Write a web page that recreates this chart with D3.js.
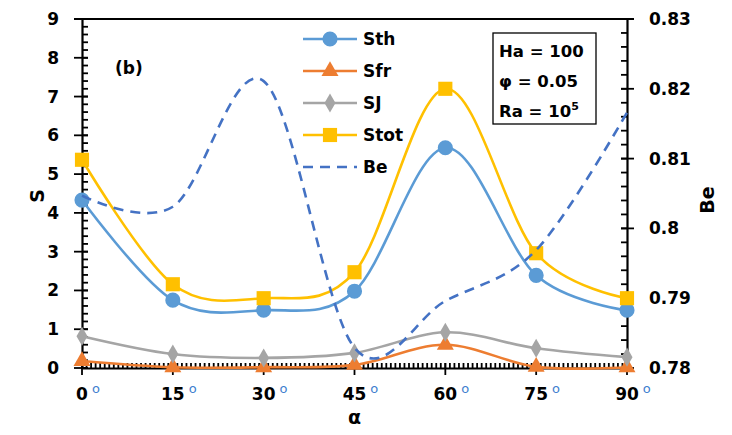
<!DOCTYPE html>
<html>
<head>
<meta charset="utf-8">
<script src="https://cdn.jsdelivr.net/npm/d3@7"></script>
<style>
  body { margin: 0; background: #fff; }
  text { font-family: "DejaVu Sans", Verdana, sans-serif; font-weight: bold; fill: #000; }
</style>
</head>
<body>
<svg id="chart" width="732" height="435"></svg>
<script>
// Inclination angle (degrees)
const angles = [0, 15, 30, 45, 60, 75, 90];

// Entropy generation components (left axis)
const sth  = [4.33, 1.75, 1.49, 1.98, 5.68, 2.39, 1.49];
const sfr  = [0.18, 0.02, 0.02, 0.08, 0.60, 0.03, 0.02];
const sj   = [0.82, 0.36, 0.26, 0.39, 0.92, 0.51, 0.28];
const stot = [5.37, 2.16, 1.80, 2.47, 7.20, 2.96, 1.80];

// Bejan number (right axis)
const be = [0.8047, 0.8031, 0.8211, 0.7829, 0.7896, 0.7969, 0.8166];

// Tick labels
const xTicks = [0, 15, 30, 45, 60, 75, 90];
const leftTicks = [0, 1, 2, 3, 4, 5, 6, 7, 8, 9];
const rightTicks = [0.78, 0.79, 0.8, 0.81, 0.82, 0.83];

const paramLines = [
  { main: "Ha = 100" },
  { main: "\u03c6 = 0.05" },
  { main: "Ra = 10", sup: "5" }
];

const svg = d3.select("#chart");

const x = d3.scaleLinear().domain([0, 90]).range([82, 627]);
const yL = d3.scaleLinear().domain([0, 9]).range([368, 19]);
const yR = d3.scaleLinear().domain([0.78, 0.83]).range([368, 19]);

const axisColor = "#000";
const ticksG = svg.append("g").attr("stroke", axisColor).attr("stroke-width", 1.8);

// Minor tick values (inside the plot area)
const leftMinor = d3.range(0, 46).map(i => i * 0.2);
const rightMinor = d3.range(0, 26).map(i => 0.78 + i * 0.002);
const bottomMinor = d3.range(0, 121).map(i => i * 0.75);

// Left axis ticks: minor inside, major crossing
ticksG.selectAll("line.lmin").data(leftMinor).join("line").attr("class", "lmin")
  .attr("x1", x(0)).attr("x2", x(0) + 6).attr("y1", d => yL(d)).attr("y2", d => yL(d));
ticksG.selectAll("line.lmaj").data(leftTicks).join("line").attr("class", "lmaj")
  .attr("x1", x(0) - 8).attr("x2", x(0) + 6).attr("y1", d => yL(d)).attr("y2", d => yL(d));

// Right axis ticks
ticksG.selectAll("line.rmin").data(rightMinor).join("line").attr("class", "rmin")
  .attr("x1", x(90) - 6).attr("x2", x(90)).attr("y1", d => yR(d)).attr("y2", d => yR(d));
ticksG.selectAll("line.rmaj").data(rightTicks).join("line").attr("class", "rmaj")
  .attr("x1", x(90) - 6).attr("x2", x(90) + 7).attr("y1", d => yR(d)).attr("y2", d => yR(d));

// Bottom axis ticks
ticksG.selectAll("line.bmin").data(bottomMinor).join("line").attr("class", "bmin")
  .attr("x1", d => x(d)).attr("x2", d => x(d)).attr("y1", yL(0)).attr("y2", yL(0) - 5);
ticksG.selectAll("line.bmaj").data(xTicks).join("line").attr("class", "bmaj")
  .attr("x1", d => x(d)).attr("x2", d => x(d)).attr("y1", yL(0) - 5).attr("y2", yL(0) + 7);

// Axis lines and numeric labels
svg.append("g").attr("class", "ax").attr("transform", `translate(${x(0)},0)`)
  .call(d3.axisLeft(yL).tickValues(leftTicks).tickSize(0).tickPadding(23).tickFormat(d3.format("d")));
svg.append("g").attr("class", "ax").attr("transform", `translate(${x(90)},0)`)
  .call(d3.axisRight(yR).tickValues(rightTicks).tickSize(0).tickPadding(22).tickFormat(d => String(d)));
svg.append("g").attr("class", "ax").attr("transform", `translate(0,${yL(0)})`)
  .call(d3.axisBottom(x).tickValues(xTicks).tickSize(0).tickFormat(""));

svg.selectAll(".ax .domain").attr("stroke", axisColor).attr("stroke-width", 2.2);
svg.selectAll(".ax .tick text")
  .attr("fill", "#000")
  .style("font-size", "17px")
  .style("font-family", "'DejaVu Sans', sans-serif")
  .style("font-weight", "bold");

// Top border of the plot area
svg.append("line")
  .attr("x1", x(0) - 8).attr("x2", x(90) + 7)
  .attr("y1", yL(9)).attr("y2", yL(9))
  .attr("stroke", axisColor).attr("stroke-width", 2);

// Bottom tick labels with a small raised degree sign
const xl = svg.append("g").selectAll("g").data(xTicks).join("g")
  .attr("transform", d => `translate(${x(d)},400)`);
xl.append("text").attr("text-anchor", "middle").style("font-size", "17px").text(d => d);
xl.append("text")
  .attr("x", d => String(d).length * 5.9 + 4)
  .attr("y", -7)
  .style("font-size", "13px").style("font-weight", "normal").style("fill", "#3f7fcf")
  .text("o");

// Axis titles
svg.append("text").attr("transform", "translate(44,196) rotate(-90)")
  .attr("text-anchor", "middle").style("font-size", "19px").text("S");
svg.append("text").attr("transform", "translate(714,200) rotate(-90)")
  .attr("text-anchor", "middle").style("font-size", "19px").text("Be");
svg.append("text").attr("x", x(45)).attr("y", 424)
  .attr("text-anchor", "middle").style("font-size", "19px").text("\u03b1");

// ---- Series ----
const curve = d3.curveCatmullRom.alpha(0);
const series = [
  { name: "Sth",  vals: sth,  color: "#5B9BD5", marker: "circle" },
  { name: "Sfr",  vals: sfr,  color: "#ED7D31", marker: "triangle" },
  { name: "SJ",   vals: sj,   color: "#A5A5A5", marker: "diamond" },
  { name: "Stot", vals: stot, color: "#FFC000", marker: "square" }
];
const symbolFor = {
  circle: d3.symbol().type(d3.symbolCircle).size(180),
  triangle: d3.symbol().type(d3.symbolTriangle).size(125),
  diamond: d3.symbol().type(d3.symbolDiamond).size(105),
  square: d3.symbol().type(d3.symbolSquare).size(200)
};

const lineL = d3.line().x((d, i) => x(angles[i])).y(d => yL(d)).curve(curve);

series.forEach(s => {
  const g = svg.append("g");
  g.append("path").attr("d", lineL(s.vals))
    .attr("fill", "none").attr("stroke", s.color).attr("stroke-width", 2.6);
  g.selectAll("path.m").data(s.vals).join("path").attr("class", "m")
    .attr("transform", (d, i) => `translate(${x(angles[i])},${yL(d)})`)
    .attr("d", symbolFor[s.marker]())
    .attr("fill", s.color);
});

// Bejan number, dashed, on the secondary axis
const lineR = d3.line().x((d, i) => x(angles[i])).y(d => yR(d)).curve(curve);
svg.append("path").attr("d", lineR(be))
  .attr("fill", "none").attr("stroke", "#4472C4").attr("stroke-width", 2.6)
  .attr("stroke-dasharray", "10,7");

// ---- Legend ----
const legend = svg.append("g").attr("transform", "translate(303,39)");
const legendItems = series.concat([{ name: "Be", color: "#4472C4", marker: null, dashed: true }]);
const li = legend.selectAll("g").data(legendItems).join("g")
  .attr("transform", (d, i) => `translate(0,${i * 32})`);
li.append("line").attr("x1", 0).attr("x2", 54).attr("y1", 0).attr("y2", 0)
  .attr("stroke", d => d.color).attr("stroke-width", 2.6)
  .attr("stroke-dasharray", d => d.dashed ? "10,7" : null);
li.filter(d => d.marker).append("path")
  .attr("transform", "translate(27,0)")
  .attr("d", d => symbolFor[d.marker]())
  .attr("fill", d => d.color);
li.append("text").attr("x", 60).attr("dy", "0.36em").style("font-size", "17px").text(d => d.name);

// Panel tag
svg.append("text").attr("x", 115).attr("y", 74).style("font-size", "17px").text("(b)");

// Parameter box
svg.append("rect").attr("x", 493).attr("y", 33).attr("width", 103).attr("height", 91)
  .attr("fill", "#fff").attr("stroke", "#000").attr("stroke-width", 1.3);
const pt = svg.append("g").selectAll("text").data(paramLines).join("text")
  .attr("x", 499).attr("y", (d, i) => 57 + i * 30).style("font-size", "16.5px");
pt.append("tspan").text(d => d.main);
pt.filter(d => d.sup).append("tspan").attr("dy", -7).style("font-size", "11px").text(d => d.sup);
</script>
</body>
</html>
